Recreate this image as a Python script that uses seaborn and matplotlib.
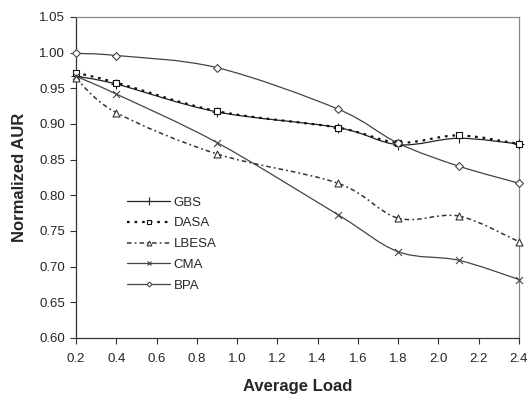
import numpy as np
import pandas as pd
import matplotlib
matplotlib.use("Agg")
import matplotlib.pyplot as plt
from matplotlib.path import Path
from matplotlib.patches import PathPatch
from matplotlib.lines import Line2D
import seaborn as sns

load = [0.2, 0.4, 0.9, 1.5, 1.8, 2.1, 2.4]
gbs = [0.967, 0.956, 0.917, 0.895, 0.871, 0.880, 0.872]
dasa = [0.972, 0.958, 0.918, 0.895, 0.874, 0.884, 0.872]
lbesa = [0.964, 0.916, 0.858, 0.817, 0.768, 0.771, 0.735]
cma = [0.967, 0.942, 0.874, 0.773, 0.721, 0.709, 0.682]
bpa = [0.999, 0.996, 0.979, 0.921, 0.873, 0.841, 0.817]
series_names = ["GBS", "DASA", "LBESA", "CMA", "BPA"]
x_ticks = [0.2, 0.4, 0.6, 0.8, 1.0, 1.2, 1.4, 1.6, 1.8, 2.0, 2.2, 2.4]
y_ticks = [0.60, 0.65, 0.70, 0.75, 0.80, 0.85, 0.90, 0.95, 1.00, 1.05]

values = {"GBS": gbs, "DASA": dasa, "LBESA": lbesa, "CMA": cma, "BPA": bpa}
df = pd.DataFrame([
    {"load": x, "aur": v, "alg": name}
    for name in series_names for x, v in zip(load, values[name])
])

styles = {
    "GBS":   dict(color="#222222", ls="-", lw=0.9, marker="+", ms=7),
    "DASA":  dict(color="#111111", ls=(0, (1.2, 2.2)), lw=1.6, marker="s", ms=5),
    "LBESA": dict(color="#333333", ls=(0, (3, 2, 1.2, 2)), lw=1.1, marker="^", ms=5),
    "CMA":   dict(color="#444444", ls="-", lw=0.9, marker="x", ms=5),
    "BPA":   dict(color="#444444", ls="-", lw=0.9, marker="D", ms=4),
}

sns.set_style("white")
plt.rcParams["font.family"] = ["Liberation Sans", "DejaVu Sans"]

fig = plt.figure(figsize=(5.30, 3.96), dpi=100)
ax = fig.add_axes([76 / 530, 1 - 338 / 396, (519 - 76) / 530, (338 - 17) / 396])


def smooth_path(xs, ys, tension=1 / 6):
    """Cubic Bezier path through the points (smoothed line)."""
    pts = np.column_stack([xs, ys]).astype(float)
    n = len(pts)
    verts = [pts[0]]
    codes = [Path.MOVETO]
    for i in range(n - 1):
        p0 = pts[i - 1] if i > 0 else pts[i]
        p1 = pts[i]
        p2 = pts[i + 1]
        p3 = pts[i + 2] if i + 2 < n else pts[i + 1]
        c1 = p1 + (p2 - p0) * tension
        c2 = p2 - (p3 - p1) * tension
        verts += [c1, c2, p2]
        codes += [Path.CURVE4] * 3
    return Path(verts, codes)


for name in series_names:
    st = styles[name]
    sub = df[df["alg"] == name]
    ax.add_patch(PathPatch(smooth_path(sub["load"], sub["aur"]), fill=False,
                           edgecolor=st["color"], lw=st["lw"], ls=st["ls"]))
    sns.scatterplot(data=sub, x="load", y="aur", ax=ax, marker=st["marker"],
                    s=st["ms"] ** 2, facecolor="white" if st["marker"] not in "+x" else st["color"],
                    edgecolor=st["color"], linewidth=0.8, legend=False, zorder=3,
                    clip_on=False)

ax.set_xlim(0.2, 2.4)
ax.set_ylim(0.60, 1.05)
ax.set_xticks(x_ticks)
ax.set_xticklabels([f"{t:.1f}" for t in x_ticks], fontsize=9.5)
ax.set_yticks(y_ticks)
ax.set_yticklabels([f"{t:.2f}" for t in y_ticks], fontsize=9.5)
ax.tick_params(axis="both", direction="out", length=4, width=0.8, color="#333333",
               bottom=True, left=True)
ax.tick_params(axis="x", pad=7)
ax.tick_params(axis="y", pad=4)
ax.set_xlabel("Average Load", fontsize=12, fontweight="bold", labelpad=10)
ax.set_ylabel("Normalized AUR", fontsize=12, fontweight="bold", labelpad=9)

for side in ["left", "bottom"]:
    ax.spines[side].set_color("#333333")
    ax.spines[side].set_linewidth(0.9)
for side in ["top", "right"]:
    ax.spines[side].set_color("#888888")
    ax.spines[side].set_linewidth(0.9)

handles = []
for name in series_names:
    st = styles[name]
    handles.append(Line2D([0], [0], color=st["color"], ls=st["ls"], lw=st["lw"],
                          marker=st["marker"], markersize=st["ms"] - 1.5,
                          markerfacecolor="white" if st["marker"] not in "+x" else st["color"],
                          markeredgecolor=st["color"], markeredgewidth=0.8))
ax.legend(handles, series_names, loc="upper left", bbox_to_anchor=(0.103, 0.457),
          frameon=False, fontsize=9.5, handlelength=3.3, handletextpad=0.25,
          labelspacing=0.64, borderaxespad=0)

fig.savefig("out.png", dpi=100)
